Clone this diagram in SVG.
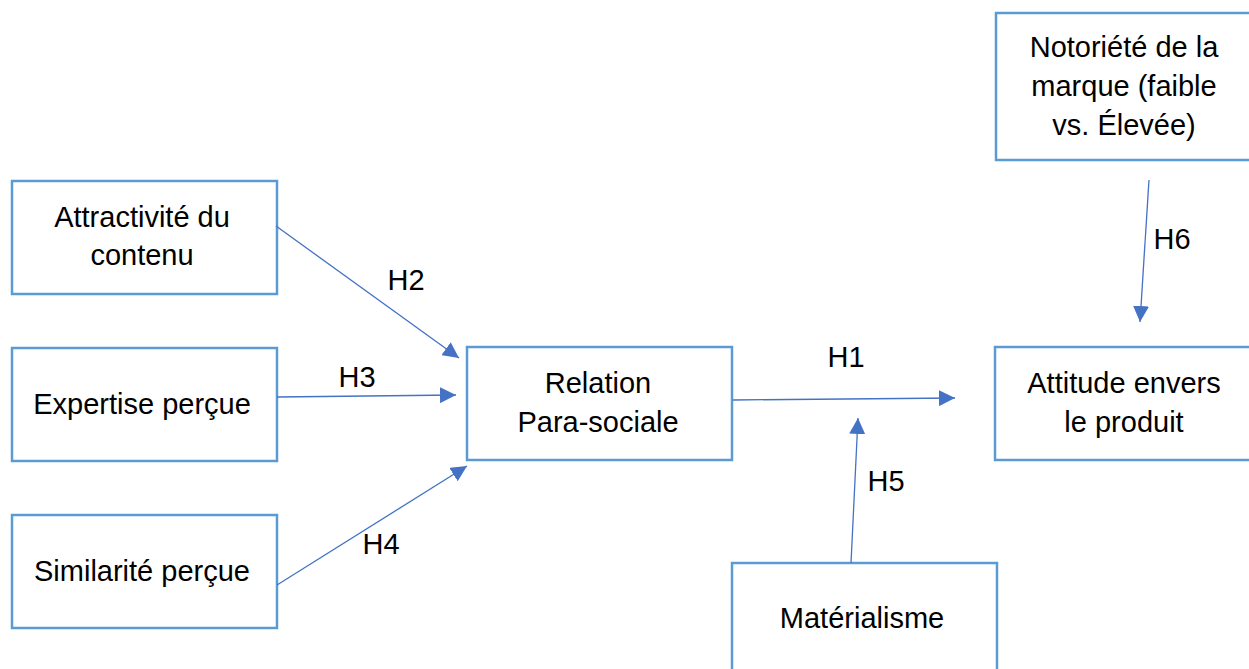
<svg xmlns="http://www.w3.org/2000/svg" width="1249" height="669" viewBox="0 0 1249 669">
<defs>
<style>
.box{fill:#fff;stroke:#5B9BD5;stroke-width:2.5}
.t{font-family:"Liberation Sans",Arial,sans-serif;font-size:29px;fill:#000;text-anchor:middle}
.c{stroke:#4472C4;stroke-width:1.3;fill:none;marker-end:url(#ah)}
</style>
<marker id="ah" viewBox="0 0 10 10" refX="10" refY="5" markerWidth="16" markerHeight="16" markerUnits="userSpaceOnUse" orient="auto">
<path d="M0,0 L10,5 L0,10 z" fill="#4472C4"/>
</marker>
</defs>
<rect width="1249" height="669" fill="#fff"/>
<g id="n-attractivite"><rect class="box" x="12" y="181" width="265" height="113"/><text class="t" x="142" y="227">Attractivité du</text><text class="t" x="142" y="265">contenu</text></g>
<g id="n-expertise"><rect class="box" x="12" y="348" width="265" height="113"/><text class="t" x="142" y="414">Expertise perçue</text></g>
<g id="n-similarite"><rect class="box" x="12" y="515" width="265" height="113"/><text class="t" x="142" y="581">Similarité perçue</text></g>
<g id="n-relation"><rect class="box" x="467" y="347" width="265" height="113"/><text class="t" x="598" y="393">Relation</text><text class="t" x="598" y="432">Para-sociale</text></g>
<g id="n-attitude"><rect class="box" x="995" y="347" width="256" height="113"/><text class="t" x="1124" y="393">Attitude envers</text><text class="t" x="1124" y="432">le produit</text></g>
<g id="n-notoriete"><rect class="box" x="996" y="13" width="256" height="147"/><text class="t" x="1124" y="57">Notoriété de la</text><text class="t" x="1124" y="96">marque (faible</text><text class="t" x="1124" y="135">vs. Élevée)</text></g>
<g id="n-materialisme"><rect class="box" x="732" y="563" width="265" height="113"/><text class="t" x="862" y="628">Matérialisme</text></g>
<g id="connectors">
<line class="c" x1="276" y1="226" x2="459" y2="358"/>
<line class="c" x1="277" y1="397" x2="456" y2="395"/>
<line class="c" x1="277" y1="585" x2="467" y2="466"/>
<line class="c" x1="733" y1="400" x2="955" y2="398"/>
<line class="c" x1="851" y1="563" x2="858" y2="418"/>
<line class="c" x1="1149" y1="180" x2="1140" y2="322"/>
</g>
<g id="labels">
<text class="t" x="406" y="290">H2</text>
<text class="t" x="357" y="387">H3</text>
<text class="t" x="381" y="554">H4</text>
<text class="t" x="846" y="367">H1</text>
<text class="t" x="886" y="491">H5</text>
<text class="t" x="1172" y="249">H6</text>
</g>
</svg>
